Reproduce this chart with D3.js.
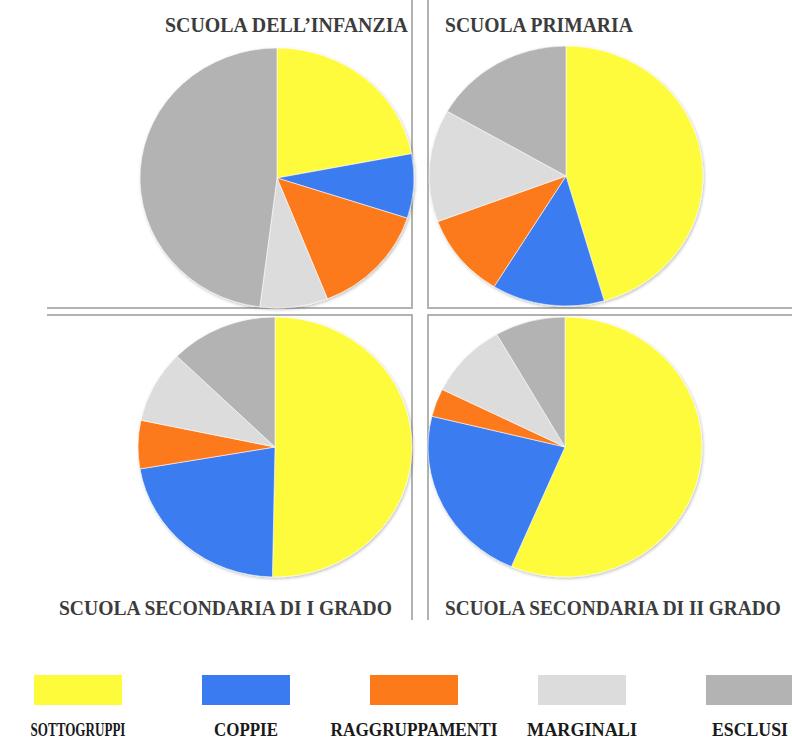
<!DOCTYPE html>
<html>
<head>
<meta charset="utf-8">
<script src="https://cdn.jsdelivr.net/npm/d3@7"></script>
<style>
  body { margin: 0; background: #fff; }
  svg { display: block; }
</style>
</head>
<body>
<svg id="chart" width="792" height="742"></svg>
<script>
// categories and colours
const categories = ['SOTTOGRUPPI', 'COPPIE', 'RAGGRUPPAMENTI', 'MARGINALI', 'ESCLUSI'];
const colors = ['#fdfb3a', '#3a7bf1', '#fc7a1a', '#dcdcdc', '#b3b3b3'];

// percentages per school level
const schools = ['SCUOLA DELL\u2019INFANZIA', 'SCUOLA PRIMARIA', 'SCUOLA SECONDARIA DI I GRADO', 'SCUOLA SECONDARIA DI II GRADO'];
const infanzia = [22, 8, 14, 8, 48];
const primaria = [45.5, 13.3, 10.5, 14, 16.7];
const secondaria1 = [50.3, 22, 6, 9, 12.7];
const secondaria2 = [56.4, 22.4, 3.5, 9.4, 8.3];
const values = [infanzia, primaria, secondaria1, secondaria2];

const svg = d3.select('#chart');
const W = 792;

// panel layout
const panels = [
  { cx: 277, cy: 178, title: { x: 165, y: 32, len: 243 } },
  { cx: 566, cy: 176, title: { x: 445, y: 32, len: 188 } },
  { cx: 275, cy: 447, title: { x: 59, y: 615, len: 333 } },
  { cx: 565, cy: 447, title: { x: 445, y: 615, len: 336 } }
];
const rx = 137, ry = 130;

// squeeze a text horizontally so it spans `len` pixels (anchor-aware)
function fitWidth(sel, len, anchorX, anchorY) {
  sel.each(function (d, i) {
    const target = typeof len === 'function' ? len(d, i) : len;
    const w = this.getComputedTextLength();
    const k = Math.min(1, target / w);
    const ax = typeof anchorX === 'function' ? anchorX(d, i) : anchorX;
    d3.select(this).attr('transform',
      `translate(${ax},${anchorY}) scale(${k},1) translate(${-ax},${-anchorY})`);
  });
}

// frame lines
const lineColor = '#b2b2b2';
const frames = [
  [[47, 308], [412, 308], [412, 0]],
  [[428, 0], [428, 308], [W, 308]],
  [[47, 315], [412, 315], [412, 620]],
  [[428, 620], [428, 315], [W, 315]]
];
svg.append('g').selectAll('path')
  .data(frames)
  .join('path')
  .attr('d', d3.line())
  .attr('fill', 'none')
  .attr('stroke', lineColor)
  .attr('stroke-width', 2);

// soft shadow for pies
const defs = svg.append('defs');
const f = defs.append('filter').attr('id', 'shadow')
  .attr('x', '-10%').attr('y', '-10%').attr('width', '120%').attr('height', '120%');
f.append('feDropShadow').attr('dx', 1).attr('dy', 1.5).attr('stdDeviation', 1.5)
  .attr('flood-color', '#000').attr('flood-opacity', 0.25);

const pie = d3.pie().sort(null).value(d => d);
const arc = d3.arc().innerRadius(0).outerRadius(rx);

panels.forEach((p, i) => {
  const g = svg.append('g')
    .attr('transform', `translate(${p.cx},${p.cy}) scale(1,${ry / rx})`)
    .attr('filter', 'url(#shadow)');
  g.selectAll('path')
    .data(pie(values[i]))
    .join('path')
    .attr('d', arc)
    .attr('fill', (d, j) => colors[j])
    .attr('stroke', '#fff')
    .attr('stroke-width', 0.6);

  svg.append('text')
    .attr('x', p.title.x)
    .attr('y', p.title.y)
    .attr('font-family', 'Liberation Serif, serif')
    .attr('font-weight', 'bold')
    .attr('font-size', 21)
    .attr('fill', '#3c3c3c')
    .text(schools[i])
    .call(fitWidth, p.title.len, p.title.x, p.title.y);
});

// legend
const legendX = d3.scalePoint().domain(categories).range([78, 750]);
const textLen = [95, 64, 167, 110, 76];
const lg = svg.append('g').selectAll('g')
  .data(categories)
  .join('g')
  .attr('transform', d => `translate(${legendX(d)},0)`);
lg.append('rect')
  .attr('x', -44).attr('y', 675)
  .attr('width', 88).attr('height', 30)
  .attr('fill', (d, i) => colors[i]);
lg.append('text')
  .attr('y', 736)
  .attr('text-anchor', 'middle')
  .attr('font-family', 'Liberation Serif, serif')
  .attr('font-weight', 'bold')
  .attr('font-size', 19)
  .attr('fill', '#1a1a1a')
  .text(d => d)
  .call(fitWidth, (d, i) => textLen[i], 0, 736);
</script>
</body>
</html>
